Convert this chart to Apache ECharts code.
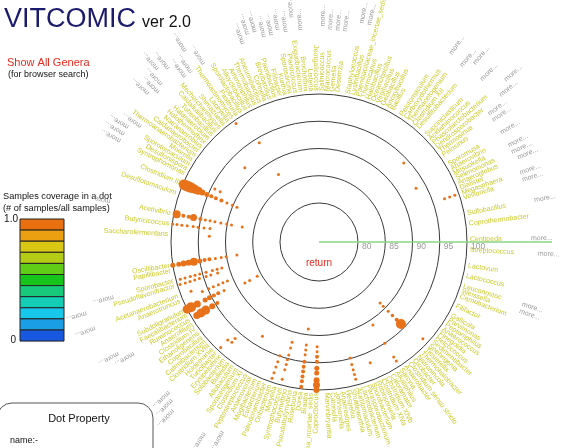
<!DOCTYPE html>
<html><head><meta charset="utf-8">
<script src="https://cdn.jsdelivr.net/npm/echarts@6/dist/echarts.min.js"></script>
<style>html,body{margin:0;padding:0;background:#fff}#c{width:567px;height:448px}</style>
</head><body><div id="c"></div>
<script>
// ---- genera around the circle (counter-clockwise from the east); '' = empty slot
const genera = [
 'Centipeda','','','Coprothermobacter','','Sulfobacillus','','','Veillonella','Megasphaera',
 'Dialister','Anaeroglobus','Selenomonas','Mitsuokella','Anaerovibrio','Sporomusa','','Pelosinus','Thermosinus','Dendrosporobacter',
 'Phascolarctobacterium','Acidaminococcus','Succiniclasticum','','Desulfitobacterium','Clostridium XII','Thermacetogenium','Carboxydothermus','Pelotomaculum','',
 'Bacillus','Anoxybacillus','Geobacillus','Virgibacillus','Oceanobacillus','Halobacillus','Thermicanus','Paenibacillaceae_incertae_sedis','Lysinibacillus','Staphylococcus',
 '','Desemzia','Gemella','Macrococcus','Salinicoccus','Jeotgalicoccus','Listeria','Brochothrix','Exiguobacterium','Planococcus',
 'Sporosarcina','Kurthia','Filibacter','Paenibacillus','Brevibacillus','Cohnella','Aneurinibacillus','Thermobacillus','Ammoniphilus','Alicyclobacillus',
 'Sporolactobacillus','Pasteuria','Thermoactinomyces','Laceyella','Shimazuella','Mechercharimyces','Caldalkalibacillus','Tuberibacillus','Halanaerobium','Halothermothrix',
 'Natranaerobius','Caldanaerobacter','Thermoanaerobacterium','Moorella','Sporotomaculum','Desulfonispora','Syntrophomonas','','Clostridium III','',
 'Desulfotomaculum','','','','Acetivibrio','','Butyricicoccus','','Saccharofermentans','',
 '','','','','Oscillibacter','Papillibacter','','Sporobacter','Pseudoflavonifractor','',
 'Acetanaerobacterium','Anaerotruncus','','Subdoligranulum','Faecalibacterium','Ruminococcus','Anaerofilum','Clostridium IV','Ethanoligenens','Coprobacillus',
 'Catenibacterium','Clostridium XVIII','Holdemania','Turicibacter','Erysipelothrix','Solobacterium','Bulleidia','Allobaculum','Sporacetigenium','Clostridium XI',
 'Peptostreptococcus','Anaerovorax','Mogibacterium','Eubacterium','Pseudoramibacter','Oribacterium','Moryella','Syntrophococcus','Butyrivibrio','Pseudobutyrivibrio',
 'Roseburia','Dorea','Blautia','Lachnospiracea_incertae_sedis','Coprococcus','','Marvinbryantia','Catonella','Johnsonella','Anaerostipes',
 'Hespellia','Shuttleworthia','Acetitomaculum','Lachnobacterium','Parasporobacterium','Sporobacterium','Robinsoniella','Clostridium XlVa','Clostridium XlVb','Caloramator',
 'Alkaliphilus','Sarcina','Anaerobacter','Clostridium sensu stricto','Oxobacter','Natronincola','Thermohalobacter','Tissierella','Soehngenia','Sedimentibacter',
 'Helcococcus','Finegoldia','Anaerococcus','Peptoniphilus','Parvimonas','Gallicola','','Filifactor','','Carnobacterium',
 'Weissella','Leuconostoc','','Lactococcus','','Lactovum','','','Streptococcus',''
];

// genera that carry a "more..." link
const moreGenera = [
 'Centipeda','Sulfobacillus','Veillonella','Megasphaera','Anaeroglobus',
 'Selenomonas','Mitsuokella','Sporomusa','Pelosinus','Thermosinus','Dendrosporobacter','Phascolarctobacterium','Succiniclasticum','Desulfitobacterium','Clostridium XII','Carboxydothermus',
 'Paenibacillaceae_incertae_sedis','Lysinibacillus','Staphylococcus','Desemzia','Gemella','Macrococcus','Salinicoccus',
 'Brochothrix','Exiguobacterium','Planococcus','Sporosarcina','Kurthia','Filibacter','Paenibacillus','Brevibacillus','Cohnella',
 'Pasteuria','Thermoactinomyces','Laceyella','Shimazuella','Mechercharimyces','Caldalkalibacillus','Tuberibacillus','Halanaerobium','Halothermothrix',
 'Moorella','Sporotomaculum','Desulfonispora','Syntrophomonas','Acetivibrio',
 'Sporobacter','Pseudoflavonifractor','Acetanaerobacterium','Faecalibacterium','Ruminococcus','Turicibacter','Erysipelothrix','Holdemania','Clostridium XI','Peptostreptococcus','Anaerovorax',
 'Weissella','Leuconostoc','Streptococcus'
];

// identity rings (%)
const ringValues = [80, 85, 90, 95, 100];
const selectedGenus = 'Centipeda';

// dots: [genus, identity %, dot size]
const dots = [
 ['Syntrophomonas',94.3,3],['Syntrophomonas',93.2,3],
 ['Clostridium III',99.8,10],['Clostridium III',99.3,11],['Clostridium III',98.7,11],['Clostridium III',98.2,10],['Clostridium III',97.6,9],['Clostridium III',96.9,8],['Clostridium III',96.1,6],['Clostridium III',95.2,5],['Clostridium III',94.3,4],['Clostridium III',93.4,4],['Clostridium III',92.3,4],['Clostridium III',91.2,3],['Clostridium III',90.1,3],['Clostridium III',89.2,3],
 ['Tuberibacillus',92.1,3],['Sporolactobacillus',87.3,3],['Sporolactobacillus',94.1,3],['Thermoactinomyces',99.4,3],
 ['Acetivibrio',99.45,8],['Acetivibrio',98.2,4],['Acetivibrio',97.2,4],['Acetivibrio',96.3,7],['Acetivibrio',95.0,4],['Acetivibrio',94.1,3],['Acetivibrio',93.2,3],['Acetivibrio',92.3,3],['Acetivibrio',91.2,3],['Acetivibrio',90.1,3],['Acetivibrio',89.2,3],['Acetivibrio',87.2,3],
 ['Butyricicoccus',99.9,3],['Butyricicoccus',99.1,3],['Butyricicoccus',98.2,3],['Butyricicoccus',97.2,3],['Butyricicoccus',96.1,3],['Butyricicoccus',95.2,3],['Butyricicoccus',94.1,3],['Butyricicoccus',93.0,3],
 ['Saccharofermentans',93.0,3],
 ['Oscillibacter',100.0,5],['Oscillibacter',98.9,5],['Oscillibacter',98.0,6],['Oscillibacter',97.1,6],['Oscillibacter',96.1,8],['Oscillibacter',95.0,5],['Oscillibacter',94.1,4],['Oscillibacter',93.2,4],['Oscillibacter',92.1,3],['Oscillibacter',91.0,3],['Oscillibacter',90.1,3],['Oscillibacter',88.1,3],
 ['Sporobacter',99.2,3],['Sporobacter',98.3,3],['Sporobacter',97.3,3],['Sporobacter',96.4,3],['Sporobacter',95.5,3],['Sporobacter',94.3,3],['Sporobacter',93.1,3],['Sporobacter',92.2,3],['Sporobacter',91.3,3],
 ['Pseudoflavonifractor',99.5,3],['Pseudoflavonifractor',98.5,3],['Pseudoflavonifractor',97.6,3],['Pseudoflavonifractor',96.7,3],['Pseudoflavonifractor',95.8,3],['Pseudoflavonifractor',94.5,3],['Pseudoflavonifractor',93.6,3],['Pseudoflavonifractor',92.3,3],
 ['Acetanaerobacterium',98.0,3],
 ['Anaerotruncus',96.1,3],['Anaerotruncus',94.8,3],['Anaerotruncus',93.9,3],['Anaerotruncus',92.9,3],['Anaerotruncus',92.0,3],['Anaerotruncus',91.1,3],
 ['Faecalibacterium',88.4,3],['Faecalibacterium',87.4,3],['Faecalibacterium',85.8,3],
 ['Subdoligranulum',100.0,9],['Subdoligranulum',99.2,10],['Subdoligranulum',97.9,7],['Subdoligranulum',96.3,5],['Subdoligranulum',95.4,5],['Subdoligranulum',94.5,4],['Subdoligranulum',93.6,4],['Subdoligranulum',92.4,3],
 ['Ruminococcus',99.0,7],['Ruminococcus',98.1,9],['Ruminococcus',97.1,9],['Ruminococcus',95.7,6],['Ruminococcus',94.6,4],
 ['Turicibacter',99.3,3],['Turicibacter',97.4,3],['Erysipelothrix',96.3,3],['Erysipelothrix',97.2,3],['Clostridium XI',93.0,3],
 ['Oribacterium',94.9,3],['Oribacterium',96.1,3],['Oribacterium',97.1,3],['Oribacterium',98.2,3],['Oribacterium',99.3,3],
 ['Syntrophococcus',91.9,3],['Syntrophococcus',93.0,3],['Syntrophococcus',94.3,3],['Syntrophococcus',95.2,3],['Syntrophococcus',96.1,3],['Syntrophococcus',97.1,3],['Syntrophococcus',98.9,3],
 ['Dorea',88.95,3],['Dorea',91.9,3],['Dorea',92.8,3],['Dorea',93.7,3],['Dorea',95.0,4],['Dorea',95.9,4],['Dorea',96.8,4],['Dorea',97.7,4],['Dorea',98.6,4],['Dorea',99.6,4],
 ['Coprococcus',92.05,3],['Coprococcus',93.0,3],['Coprococcus',93.9,4],['Coprococcus',94.8,4],['Coprococcus',96.0,5],['Coprococcus',96.9,5],['Coprococcus',98.2,6],['Coprococcus',99.1,7],['Coprococcus',100.0,6],
 ['Acetitomaculum',94.9,3],['Acetitomaculum',96.1,3],['Acetitomaculum',97.1,3],['Acetitomaculum',98.0,3],['Acetitomaculum',98.9,3],
 ['Robinsoniella',96.9,3],
 ['Sarcina',98.0,3],['Sarcina',98.9,3],['Sarcina',91.0,3],['Sarcina',95.0,3],
 ['Tissierella',88.7,3],['Tissierella',89.5,3],['Tissierella',90.8,3],['Tissierella',91.9,3.5],['Tissierella',93.0,4],['Tissierella',94.1,10],
 ['Soehngenia',98.9,3],
 ['Megasphaera',97.2,3],['Megasphaera',98.2,3],['Megasphaera',99.2,3],
 ['Anaerovibrio',93.2,3],['Acidaminococcus',94.1,3]
];

// coverage legend (top = 1.0, bottom = 0)
const coverageColors = ['#e8700e','#eba012','#d9c714','#b4cc16','#60cc18','#16c41c','#18c97c','#14cdb5','#18c8ea','#1a9ee6','#1758de'];
const coverageEnds = ['1.0', '0'];

// ---------------------------------------------------------------
const FONT = '"Liberation Sans", Arial, Helvetica, sans-serif';
const V0 = 72.844, VMAX = 127.89, LABEL_R = 100.55;
const angleCats = genera.map((g, i) => g || ('gap' + i));
const gIdx = n => genera.indexOf(n);

function geom(api, r, i) {
  const c = api.coord([V0, i]);
  const p = api.coord([r, i]);
  const dx = p[0] - c[0], dy = p[1] - c[1];
  const d = Math.hypot(dx, dy) || 1;
  return { c, p, d, ux: dx / d, uy: dy / d, th: Math.atan2(-dy, dx) };
}

const chart = echarts.init(document.getElementById('c'), null, { renderer: 'canvas', width: 567, height: 448 });

const legendRects = coverageColors.map((col, k) => ({
  type: 'rect', shape: { x: 20, y: 219 + k * 11.1, width: 44, height: 11.1 },
  style: { fill: col, stroke: '#222', lineWidth: 1 }
}));

chart.setOption({
  animation: false,
  backgroundColor: '#fff',
  polar: { center: [319, 242], radius: 300 },
  angleAxis: {
    type: 'category', data: angleCats, startAngle: 0, clockwise: false, boundaryGap: true,
    axisLine: { show: false }, axisTick: { show: false }, axisLabel: { show: false },
    splitLine: { show: false }, splitArea: { show: false }
  },
  radiusAxis: {
    type: 'value', min: V0, max: VMAX,
    axisLine: { show: false }, axisTick: { show: false }, axisLabel: { show: false },
    splitLine: { show: false }, splitArea: { show: false }
  },
  graphic: [
    { type: 'text', x: 4, y: 20, style: { text: 'VITCOMIC', font: '27px ' + FONT, fill: '#1b1b6b', verticalAlign: 'middle' } },
    { type: 'text', x: 142, y: 22.5, style: { text: 'ver 2.0', font: '16px ' + FONT, fill: '#111', verticalAlign: 'middle' } },
    { type: 'text', x: 7, y: 63, style: { text: 'Show All Genera', font: '11px ' + FONT, fill: '#e52b1f', verticalAlign: 'middle' } },
    { type: 'text', x: 8, y: 74.5, style: { text: '(for browser search)', font: '9px ' + FONT, fill: '#111', verticalAlign: 'middle' } },
    { type: 'text', x: 3, y: 196, style: { text: 'Samples coverage in a dot', font: '9.2px ' + FONT, fill: '#111', verticalAlign: 'middle' } },
    { type: 'text', x: 3, y: 208, style: { text: '(# of samples/all samples)', font: '9.2px ' + FONT, fill: '#111', verticalAlign: 'middle' } },
    { type: 'text', x: 18, y: 219, style: { text: coverageEnds[0], font: '10px ' + FONT, fill: '#111', align: 'right', verticalAlign: 'middle' } },
    { type: 'text', x: 16, y: 340, style: { text: coverageEnds[1], font: '10px ' + FONT, fill: '#111', align: 'right', verticalAlign: 'middle' } },
    ...legendRects,
    { type: 'rect', shape: { x: -3, y: 403, width: 156, height: 70, r: 15 }, style: { fill: 'none', stroke: '#555', lineWidth: 1 } },
    { type: 'text', x: 79, y: 419, style: { text: 'Dot Property', font: '11px ' + FONT, fill: '#111', align: 'center', verticalAlign: 'middle' } },
    { type: 'text', x: 10, y: 441, style: { text: 'name:-', font: '9px ' + FONT, fill: '#111', verticalAlign: 'middle' } },
    { type: 'text', x: 319, y: 263, style: { text: 'return', font: '10px ' + FONT, fill: '#e52b1f', align: 'center', verticalAlign: 'middle' } }
  ],
  series: [
    { // identity rings with their labels
      type: 'custom', coordinateSystem: 'polar', silent: true, z: 1,
      data: ringValues.map(v => [v, 0]),
      renderItem: (params, api) => {
        const g = geom(api, api.value(0), 0);
        return { type: 'group', children: [
          { type: 'circle', shape: { cx: g.c[0], cy: g.c[1], r: g.d }, style: { fill: 'none', stroke: '#3a3a3a', lineWidth: 1 } },
          { type: 'text', x: g.c[0] + g.d + 4, y: g.c[1] + 5, style: { text: String(api.value(0)), font: '8.5px ' + FONT, fill: '#999', verticalAlign: 'middle' } }
        ] };
      }
    },
    { // selected genus line
      type: 'custom', coordinateSystem: 'polar', silent: true, z: 2,
      data: [[115.6, gIdx(selectedGenus)]],
      renderItem: (params, api) => {
        const g = geom(api, api.value(0), api.value(1));
        return { type: 'line', shape: { x1: g.c[0], y1: g.c[1], x2: g.c[0] + g.d, y2: g.c[1] }, style: { stroke: '#86d886', lineWidth: 1.3 } };
      }
    },
    { // genus labels
      type: 'custom', coordinateSystem: 'polar', silent: true, z: 3,
      data: genera.map((n, i) => [LABEL_R, i]).filter(d => genera[d[1]]),
      renderItem: (params, api) => {
        const i = api.value(1);
        const g = geom(api, api.value(0), i);
        const right = Math.cos(g.th) >= 0;
        return { type: 'text', x: g.p[0], y: g.p[1], rotation: right ? g.th : g.th - Math.PI,
          style: { text: genera[i], font: '7px ' + FONT, fill: '#caca2a', align: right ? 'left' : 'right', verticalAlign: 'middle' } };
      }
    },
    { // "more..." links
      type: 'custom', coordinateSystem: 'polar', silent: true, z: 3,
      data: moreGenera.map(n => [LABEL_R, gIdx(n)]),
      renderItem: (params, api) => {
        const i = api.value(1);
        const g = geom(api, api.value(0), i);
        const rpx = Math.max(212, g.d + genera[i].length * 3.4 + 24);
        return { type: 'text', x: g.c[0] + g.ux * rpx, y: g.c[1] + g.uy * rpx, rotation: g.th,
          style: { text: 'more...', font: '7px ' + FONT, fill: '#9a9a9a', align: 'left', verticalAlign: 'middle' } };
      }
    },
    { // dots
      type: 'scatter', coordinateSystem: 'polar', z: 4, silent: true,
      data: dots.map(d => [d[1], gIdx(d[0]), d[2]]),
      symbolSize: v => v[2],
      itemStyle: { color: '#e8721a', opacity: 1 }
    }
  ]
});
</script>
</body></html>
